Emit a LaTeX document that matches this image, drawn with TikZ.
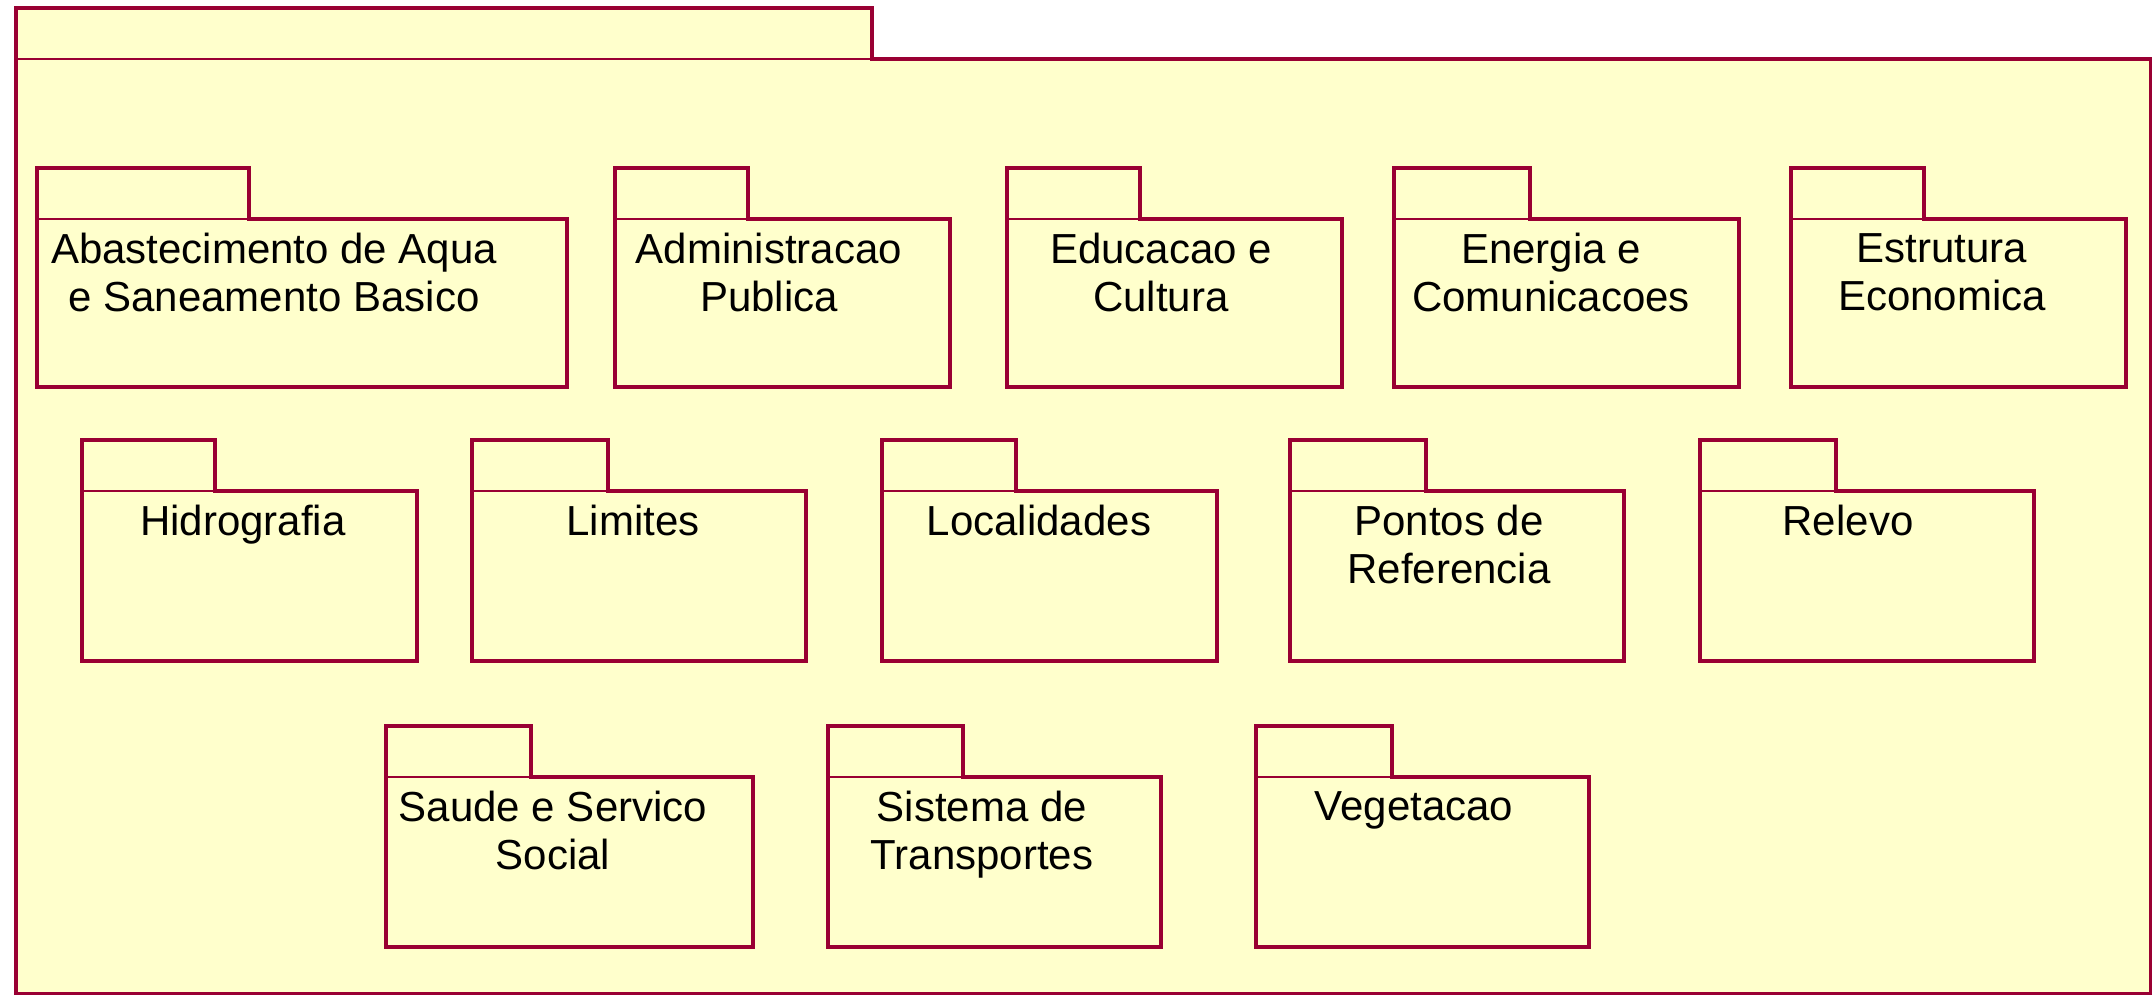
\documentclass[tikz,border=0pt]{standalone}
\usepackage{fontspec}
\setmainfont{Liberation Sans}
\usepackage{tikz}
\tikzstyle{diagram} = [x = 1pt, y = -1pt]
\definecolor{packageLine}{RGB}{153,0,51}
\definecolor{packageFill}{RGB}{255,255,204}
\tikzstyle{packageBody} = [fill=packageFill, draw=none]
\tikzstyle{packageOutline} = [color=packageLine, line width=3.4pt, line join=miter]
\tikzstyle{packageThin} = [color=packageLine, line width=1.5pt]
\tikzstyle{packageText} = [font=\fontsize{42}{48}\selectfont, align=center, anchor=north, inner sep=0pt]
\newcommand{\tabHeight}{51}
\newcommand{\umlPackage}[8]{
  \fill [packageBody] (#2, #3) rectangle + (#5, \tabHeight);
  \fill [packageBody] (#2, #3 + \tabHeight) rectangle + (#4, #6);
  \draw [packageThin] (#2, #3 + \tabHeight) -- + (#5, 0);
  \draw [packageOutline] (#2, #3 + \tabHeight + #6) -- ++ (0, -#6 - \tabHeight) -- ++ (#5, 0) -- ++ (0, \tabHeight) -- ++ (#4 - #5, 0) -- ++ (0, #6) -- cycle;
  \node [packageText] (#1) at (#7, #3 + \tabHeight + 14) {#8};
}

\begin{document}
\begin{tikzpicture}[diagram]
  \useasboundingbox (0, 0) rectangle (2152, 995);
  % outer package
  \fill [packageBody] (16, 8) rectangle (872, 59);
  \fill [packageBody] (16, 59) rectangle (2151, 994);
  \draw [packageThin] (16, 59) -- (872, 59);
  \draw [packageOutline] (16, 994) -- (16, 8) -- (872, 8) -- (872, 59) -- (2151, 59) -- (2151, 994) -- cycle;
  % first row
  \umlPackage{abastecimento}{37}{168}{530}{212}{168}{274}{Abastecimento de Aqua\\e Saneamento Basico}
  \umlPackage{administracao}{615}{168}{335}{133}{168}{769}{Administracao\\Publica}
  \umlPackage{educacao}{1007}{168}{335}{133}{168}{1161}{Educacao e\\Cultura}
  \umlPackage{energia}{1394}{168}{345}{136}{168}{1551}{Energia e\\Comunicacoes}
  \umlPackage{estrutura}{1791}{168}{335}{133}{168}{1942}{Estrutura\\Economica}
  % second row
  \umlPackage{hidrografia}{82}{440}{335}{133}{170}{243}{Hidrografia}
  \umlPackage{limites}{472}{440}{334}{136}{170}{633}{Limites}
  \umlPackage{localidades}{882}{440}{335}{134}{170}{1039}{Localidades}
  \umlPackage{pontos}{1290}{440}{334}{136}{170}{1449}{Pontos de\\Referencia}
  \umlPackage{relevo}{1700}{440}{334}{136}{170}{1848}{Relevo}
  % third row
  \umlPackage{saude}{386}{726}{367}{145}{170}{553}{Saude e Servico\\Social}
  \umlPackage{sistema}{828}{726}{333}{135}{170}{982}{Sistema de\\Transportes}
  \umlPackage{vegetacao}{1256}{726}{333}{136}{170}{1414}{Vegetacao}
\end{tikzpicture}
\end{document}
